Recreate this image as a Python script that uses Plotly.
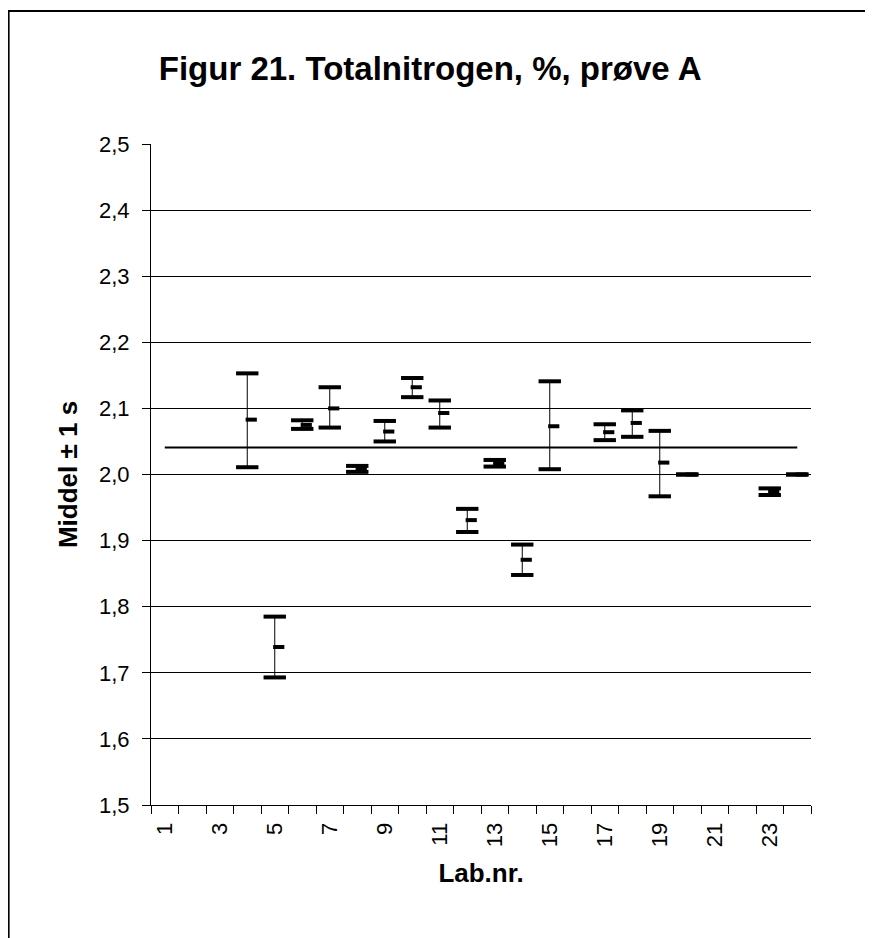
import numpy as np
import plotly.graph_objects as go

# lab results for sample A (total nitrogen, %), mean +/- 1 s
labs = [4, 5, 6, 7, 8, 9, 10, 11, 12, 13, 14, 15, 17, 18, 19, 20, 23, 24]
high = [2.153, 1.785, 2.082, 2.132, 2.013, 2.081, 2.146, 2.112, 1.948, 2.022,
        1.894, 2.141, 2.076, 2.097, 2.066, 2.000, 1.979, 2.000]
mean = [2.083, 1.739, 2.075, 2.100, 2.008, 2.065, 2.132, 2.093, 1.931, 2.017,
        1.871, 2.073, 2.064, 2.078, 2.018, 2.000, 1.974, 2.000]
low = [2.011, 1.693, 2.069, 2.071, 2.004, 2.050, 2.117, 2.071, 1.913, 2.012,
       1.848, 2.008, 2.052, 2.057, 1.967, 2.000, 1.969, 2.000]
all_labs = list(range(1, 25))
grand_mean = 2.041
tick_labels = [str(n) for n in range(1, 24, 2)]

FONT = "Arial, Liberation Sans, sans-serif"
high = np.array(high)
low = np.array(low)

fig = go.Figure()

# overall mean line
fig.add_trace(go.Scatter(x=all_labs, y=[grand_mean] * len(all_labs), mode="lines",
                         line=dict(color="black", width=2), hoverinfo="skip"))

# low dash + vertical line up to high
fig.add_trace(go.Scatter(
    x=labs, y=low, mode="markers",
    marker=dict(symbol="line-ew", size=16, line=dict(color="black", width=4)),
    error_y=dict(type="data", symmetric=False, array=high - low,
                 arrayminus=[0] * len(labs), color="black", thickness=1, width=0),
))
# high dash
fig.add_trace(go.Scatter(
    x=labs, y=high, mode="markers",
    marker=dict(symbol="line-ew", size=16, line=dict(color="black", width=4)),
))
# mean tick, to the right of the line
fig.add_trace(go.Scatter(
    x=np.array(labs) + 0.145, y=mean, mode="markers",
    marker=dict(symbol="line-ew", size=8, line=dict(color="black", width=4)),
))

xr = [0.5, 24.5]
yr = [1.5, 2.5]
bounds = np.arange(0.5, 25, 1)
tfont = dict(family=FONT, size=22, color="black")

# page has an 8px body margin, so the figure is sized to fit the window
W, H = 865, 930
L, T, PW, PH = 142.5, 136, 660.5, 661

fig.update_layout(
    width=W, height=H,
    margin=dict(l=L, r=W - L - PW, t=T, b=H - T - PH),
    paper_bgcolor="white", plot_bgcolor="white",
    showlegend=False,
    separators=", ",
    font=dict(family=FONT, color="black"),
    title=dict(text="<b>Figur 21. Totalnitrogen, %, prøve A</b>",
               x=0.488, xanchor="center", y=1 - 60 / H, yanchor="middle",
               font=dict(family=FONT, size=33, color="black")),
    xaxis=dict(range=xr, tickmode="array", tickvals=list(range(1, 24, 2)), ticktext=tick_labels,
               tickangle=-90, ticks="", ticklabelstandoff=8, tickfont=tfont,
               showgrid=False, zeroline=False, showline=True, linecolor="black", linewidth=1,
               minor=dict(tickmode="array", tickvals=list(bounds), ticks="outside",
                          ticklen=8, tickcolor="black", tickwidth=1, showgrid=False),
               title=dict(text="<b>Lab.nr.</b>", font=dict(family=FONT, size=26, color="black"),
                          standoff=17)),
    xaxis2=dict(range=xr, overlaying="x", anchor="y", tickmode="array", tickvals=list(bounds),
                ticks="inside", ticklen=8, tickcolor="black", showticklabels=False,
                showgrid=False, zeroline=False, showline=False),
    yaxis=dict(range=yr, tickmode="linear", tick0=1.5, dtick=0.1, tickformat=".1f",
               ticks="outside", ticklen=8, tickcolor="black", ticklabelstandoff=8, tickfont=tfont,
               showgrid=True, gridcolor="black", gridwidth=1, zeroline=False,
               showline=True, linecolor="black", linewidth=1,
               title=dict(text="<b>Middel ± 1 s</b>", font=dict(family=FONT, size=26, color="black"),
                          standoff=13)),
    yaxis2=dict(range=yr, overlaying="y", side="right", anchor="x", tickmode="linear", tick0=1.5,
                dtick=0.1, tickformat=".1f", ticks="outside", ticklen=8, tickcolor="black",
                ticklabelstandoff=8, tickfont=tfont, showgrid=False, zeroline=False,
                showline=True, linecolor="black", linewidth=1),
    yaxis3=dict(range=yr, overlaying="y", side="left", anchor="x", tickmode="linear", tick0=1.5,
                dtick=0.1, ticks="inside", ticklen=8, tickcolor="black", showticklabels=False,
                showgrid=False, zeroline=False, showline=False),
    yaxis4=dict(range=yr, overlaying="y", side="right", anchor="x", tickmode="linear", tick0=1.5,
                dtick=0.1, ticks="inside", ticklen=8, tickcolor="black", showticklabels=False,
                showgrid=False, zeroline=False, showline=False),
    # outer chart frame, running off the right and bottom edges
    shapes=[dict(type="rect", xref="paper", yref="paper",
                 x0=-L / PW, x1=1.3, y0=-0.3, y1=(T + PH - 3) / PH,
                 line=dict(color="black", width=2), fillcolor="rgba(0,0,0,0)", layer="below")],
)

fig.write_html("out.html")
